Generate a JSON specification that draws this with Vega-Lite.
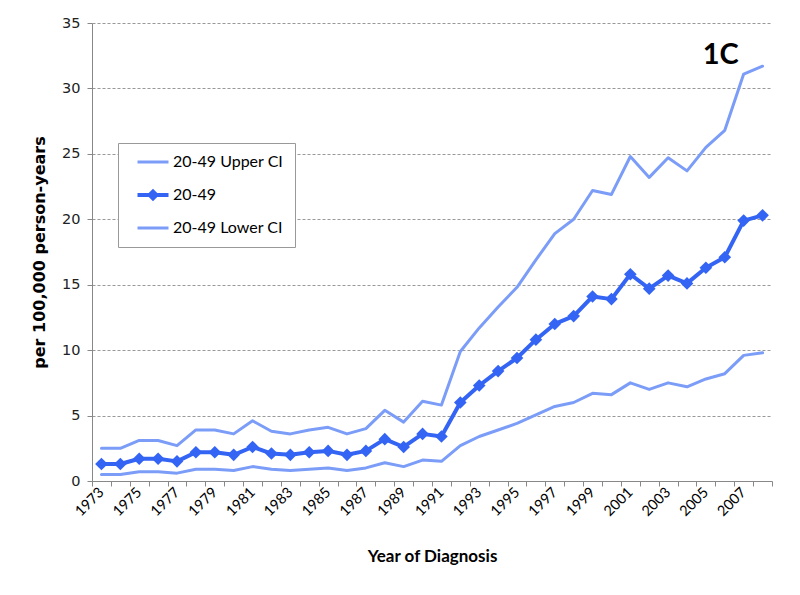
{
  "$schema": "https://vega.github.io/schema/vega-lite/v6.json",
  "width": 680,
  "height": 458,
  "autosize": {"type": "none"},
  "padding": {"left": 92, "top": 23, "right": 28, "bottom": 114},
  "background": "white",
  "config": {"view": {"stroke": null}},
  "data": {"values": [
    {"Year": 1973, "upper": 2.5, "rate": 1.3, "lower": 0.5},
    {"Year": 1974, "upper": 2.5, "rate": 1.3, "lower": 0.5},
    {"Year": 1975, "upper": 3.1, "rate": 1.7, "lower": 0.7},
    {"Year": 1976, "upper": 3.1, "rate": 1.7, "lower": 0.7},
    {"Year": 1977, "upper": 2.7, "rate": 1.5, "lower": 0.6},
    {"Year": 1978, "upper": 3.9, "rate": 2.2, "lower": 0.9},
    {"Year": 1979, "upper": 3.9, "rate": 2.2, "lower": 0.9},
    {"Year": 1980, "upper": 3.6, "rate": 2.0, "lower": 0.8},
    {"Year": 1981, "upper": 4.6, "rate": 2.6, "lower": 1.1},
    {"Year": 1982, "upper": 3.8, "rate": 2.1, "lower": 0.9},
    {"Year": 1983, "upper": 3.6, "rate": 2.0, "lower": 0.8},
    {"Year": 1984, "upper": 3.9, "rate": 2.2, "lower": 0.9},
    {"Year": 1985, "upper": 4.1, "rate": 2.3, "lower": 1.0},
    {"Year": 1986, "upper": 3.6, "rate": 2.0, "lower": 0.8},
    {"Year": 1987, "upper": 4.0, "rate": 2.3, "lower": 1.0},
    {"Year": 1988, "upper": 5.4, "rate": 3.2, "lower": 1.4},
    {"Year": 1989, "upper": 4.5, "rate": 2.6, "lower": 1.1},
    {"Year": 1990, "upper": 6.1, "rate": 3.6, "lower": 1.6},
    {"Year": 1991, "upper": 5.8, "rate": 3.4, "lower": 1.5},
    {"Year": 1992, "upper": 9.9, "rate": 6.0, "lower": 2.7},
    {"Year": 1993, "upper": 11.7, "rate": 7.3, "lower": 3.4},
    {"Year": 1994, "upper": 13.3, "rate": 8.4, "lower": 3.9},
    {"Year": 1995, "upper": 14.8, "rate": 9.4, "lower": 4.4},
    {"Year": 1996, "upper": 16.9, "rate": 10.8, "lower": 5.05},
    {"Year": 1997, "upper": 18.9, "rate": 12.0, "lower": 5.7},
    {"Year": 1998, "upper": 20.0, "rate": 12.6, "lower": 6.0},
    {"Year": 1999, "upper": 22.2, "rate": 14.1, "lower": 6.7},
    {"Year": 2000, "upper": 21.9, "rate": 13.9, "lower": 6.6},
    {"Year": 2001, "upper": 24.8, "rate": 15.8, "lower": 7.5},
    {"Year": 2002, "upper": 23.2, "rate": 14.7, "lower": 7.0},
    {"Year": 2003, "upper": 24.7, "rate": 15.7, "lower": 7.5},
    {"Year": 2004, "upper": 23.7, "rate": 15.1, "lower": 7.2},
    {"Year": 2005, "upper": 25.5, "rate": 16.3, "lower": 7.8},
    {"Year": 2006, "upper": 26.8, "rate": 17.1, "lower": 8.2},
    {"Year": 2007, "upper": 31.1, "rate": 19.9, "lower": 9.6},
    {"Year": 2008, "upper": 31.7, "rate": 20.3, "lower": 9.8}
  ]},
  "transform": [{"fold": ["upper", "rate", "lower"], "as": ["series", "value"]}],
  "encoding": {
    "x": {
      "field": "Year", "type": "ordinal",
      "scale": {"type": "band", "paddingInner": 0, "paddingOuter": 0},
      "axis": {
        "title": "Year of Diagnosis",
        "tickBand": "extent",
        "labelAngle": -45, "labelAlign": "right", "labelBaseline": "middle",
        "labelExpr": "datum.value % 2 == 1 ? datum.label : ''",
        "labelOverlap": false,
        "labelFont": "Lato", "labelFontSize": 14.5, "labelColor": "black", "labelPadding": 4,
        "tickSize": 5, "tickColor": "#888", "domainColor": "#888", "grid": false,
        "titleFont": "Lato", "titleFontSize": 17, "titleFontWeight": "bold", "titleColor": "black", "titlePadding": 30
      }
    },
    "y": {
      "field": "value", "type": "quantitative",
      "scale": {"domain": [0, 35], "nice": false},
      "axis": {
        "title": "per 100,000 person-years",
        "values": [0, 5, 10, 15, 20, 25, 30, 35],
        "grid": true, "gridDash": [3, 2], "gridColor": "#999",
        "domainColor": "#888", "tickColor": "#888", "tickSize": 5,
        "labelFont": "DejaVu Sans", "labelFontSize": 14.5, "labelColor": "#222", "labelPadding": 7,
        "titleFont": "DejaVu Sans", "titleFontSize": 16, "titleFontWeight": "bold", "titleColor": "black", "titlePadding": 14
      }
    },
    "color": {
      "field": "series", "type": "nominal",
      "scale": {"domain": ["upper", "rate", "lower"], "range": ["#7b9df8", "#3464f4", "#7b9df8"]},
      "legend": {
        "title": null, "orient": "none", "legendX": 26, "legendY": 120, "direction": "vertical",
        "strokeColor": "#999", "fillColor": "white", "padding": 11,
        "labelFont": "Lato", "labelFontSize": 16, "labelColor": "black",
        "labelExpr": "datum.value == 'upper' ? '20-49 Upper CI' : datum.value == 'rate' ? '20-49' : '20-49 Lower CI'",
        "symbolType": "stroke", "symbolSize": 961, "symbolStrokeWidth": 3, "symbolOffset": 16, "labelOffset": 12, "rowPadding": 13,
        "encode": {"symbols": {"update": {
          "shape": {"signal": "datum.value == 'rate' ? 'M-1,0H1M-0.22,0L0,-0.22L0.22,0L0,0.22Z' : 'stroke'"},
          "fill": {"signal": "datum.value == 'rate' ? '#3464f4' : 'transparent'"},
          "strokeWidth": {"signal": "datum.value == 'rate' ? 4 : 3"}
        }}}
      }
    }
  },
  "layer": [
    {
      "transform": [{"filter": "datum.series != 'rate'"}],
      "mark": {"type": "line", "strokeWidth": 3, "strokeJoin": "round", "strokeCap": "round"}
    },
    {
      "transform": [{"filter": "datum.series == 'rate'"}],
      "mark": {"type": "line", "strokeWidth": 4, "strokeJoin": "round", "strokeCap": "round"}
    },
    {
      "transform": [{"filter": "datum.series == 'rate'"}],
      "mark": {"type": "point", "shape": "diamond", "filled": true, "size": 160, "opacity": 1},
      "encoding": {"color": {"value": "#3464f4"}}
    },
    {
      "transform": [{"filter": "datum.series == 'rate' && datum.Year == 2008"}],
      "mark": {"type": "text", "text": "1C", "font": "Lato", "fontSize": 29, "fontWeight": "bold", "color": "black", "align": "center", "baseline": "alphabetic", "dx": -4},
      "encoding": {"x": {"datum": 2006}, "y": {"datum": 31.9}, "color": {"value": "black"}}
    }
  ]
}
